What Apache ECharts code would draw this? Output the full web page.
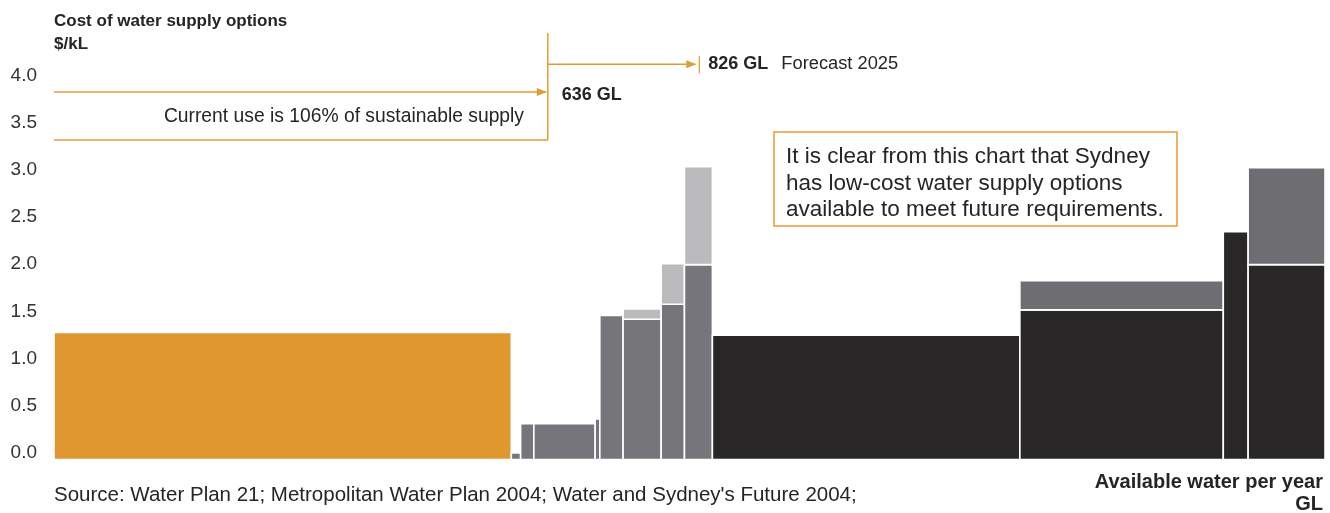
<!DOCTYPE html>
<html>
<head>
<meta charset="utf-8">
<script src="https://cdn.jsdelivr.net/npm/echarts@6/dist/echarts.min.js"></script>
<style>
html,body{margin:0;padding:0;background:#fff;}
#chart{width:1330px;height:513px;}
</style>
</head>
<body>
<div id="chart"></div>
<script>
// Supply options: width in GL of available water per year, cost in $/kL
const widthsGL   = [589, 12, 17, 79, 6, 30, 49, 30, 36, 396, 262, 32, 99];
const baseCost   = [1.35, 0.07, 0.38, 0.38, 0.43, 1.53, 1.49, 1.65, 2.07, 1.32, 1.59, 2.42, 2.07];
const topCost    = [null, null, null, null, null, null, 1.60, 2.08, 3.11, null, 1.90, null, 3.10];
const baseColor  = ['#E0972F','#76767A','#76767A','#76767A','#76767A','#76767A','#76767A','#76767A','#76767A','#292728','#292728','#292728','#292728'];
const topColor   = [null,null,null,null,null,null,'#BBBBBD','#BBBBBD','#BBBBBD',null,'#6E6E72',null,'#6E6E72'];
const yTicks     = [0, 0.5, 1.0, 1.5, 2.0, 2.5, 3.0, 3.5, 4.0];
const currentUseGL = 636;
const forecastGL   = 826;

const ORANGE = '#E39B35';
const TXT = '#262425';
const FONT = '"Liberation Sans", Arial, sans-serif';

// build rectangles from arrays
const rects = [];
const rectColors = [];
let cum = 0;
widthsGL.forEach((w, i) => {
  const x0 = cum, x1 = cum + w;
  rects.push([x0, x1, 0, baseCost[i]]);
  rectColors.push(baseColor[i]);
  if (topCost[i] != null) {
    rects.push([x0, x1, baseCost[i], topCost[i]]);
    rectColors.push(topColor[i]);
  }
  cum = x1;
});
const totalGL = cum;

const chart = echarts.init(document.getElementById('chart'), null, {renderer: 'canvas'});
chart.setOption({
  animation: false,
  grid: {left: 54, right: 5, top: 83, bottom: 53.5},
  xAxis: {type: 'value', min: 0, max: totalGL, show: false},
  yAxis: {
    type: 'value', min: 0, max: 4, interval: 0.5,
    axisLine: {show: false}, axisTick: {show: false}, splitLine: {show: false},
    axisLabel: {
      formatter: v => v.toFixed(1), color: '#333', fontSize: 19, fontFamily: FONT,
      margin: 17, verticalAlign: 'bottom', lineHeight: 14
    }
  },
  series: [{
    type: 'custom',
    data: rects,
    encode: {x: [0, 1], y: [2, 3]},
    renderItem: function (params, api) {
      const a = api.coord([api.value(0), api.value(3)]);
      const b = api.coord([api.value(1), api.value(2)]);
      return {
        type: 'rect',
        shape: {x: a[0], y: a[1], width: b[0] - a[0], height: b[1] - a[1]},
        style: {fill: rectColors[params.dataIndex], stroke: '#fff', lineWidth: 1.6}
      };
    }
  }]
});

function px(x, y) { return chart.convertToPixel({gridIndex: 0}, [x, y]); }
const gl = chart.getModel().getComponent('grid').coordinateSystem.getRect();

const xCur = px(currentUseGL, 0)[0];
const xFor = px(forecastGL, 0)[0];
const yA = px(0, 3.905)[1];   // current-use arrow
const yB = px(0, 3.395)[1];   // bracket bottom
const yTop = px(0, 4.53)[1];  // bracket top
const yC = px(0, 4.20)[1];    // forecast arrow

function arrowHead(tipX, y) {
  return {type: 'polygon', shape: {points: [[tipX, y], [tipX - 10, y - 4], [tipX - 10, y + 4]]}, style: {fill: ORANGE}};
}
const lineStyle = {stroke: ORANGE, lineWidth: 1.5};

chart.setOption({
  graphic: [
    {type: 'line', shape: {x1: gl.x, y1: yA, x2: xCur - 2, y2: yA}, style: lineStyle},
    arrowHead(xCur - 1, yA),
    {type: 'line', shape: {x1: gl.x, y1: yB, x2: xCur, y2: yB}, style: lineStyle},
    {type: 'line', shape: {x1: xCur, y1: yTop, x2: xCur, y2: yB}, style: lineStyle},
    {type: 'line', shape: {x1: xCur, y1: yC, x2: xFor, y2: yC}, style: lineStyle},
    arrowHead(xFor + 1, yC),
    {type: 'line', shape: {x1: xFor + 4, y1: yC - 8, x2: xFor + 4, y2: yC + 9}, style: {stroke: ORANGE, lineWidth: 1.2}},
    {type: 'text', x: 54, y: 21, style: {text: 'Cost of water supply options', font: 'bold 17px ' + FONT, fill: TXT, verticalAlign: 'middle'}},
    {type: 'text', x: 54, y: 44, style: {text: '$/kL', font: 'bold 17px ' + FONT, fill: TXT, verticalAlign: 'middle'}},
    {type: 'text', x: 524, y: 117, style: {text: 'Current use is 106% of sustainable supply', font: '19.3px ' + FONT, fill: TXT, align: 'right', verticalAlign: 'middle'}},
    {type: 'text', x: xCur + 14, y: 95, style: {text: currentUseGL + ' GL', font: 'bold 18px ' + FONT, fill: TXT, verticalAlign: 'middle'}},
    {type: 'text', x: xFor + 13, y: 64, style: {text: forecastGL + ' GL', font: 'bold 18px ' + FONT, fill: TXT, verticalAlign: 'middle'}},
    {type: 'text', x: xFor + 86, y: 64, style: {text: 'Forecast 2025', font: '18.3px ' + FONT, fill: TXT, verticalAlign: 'middle'}},
    {type: 'rect', shape: {x: 774, y: 132, width: 403, height: 94}, style: {fill: '#fff', stroke: ORANGE, lineWidth: 1.5}},
    {type: 'text', x: 786, y: 144, style: {
      text: 'It is clear from this chart that Sydney\nhas low-cost water supply options\navailable to meet future requirements.',
      font: '22.5px ' + FONT, fill: TXT, lineHeight: 26.5, verticalAlign: 'top'}},
    {type: 'text', x: 54, y: 495, style: {text: "Source: Water Plan 21; Metropolitan Water Plan 2004; Water and Sydney's Future 2004;", font: '20.5px ' + FONT, fill: TXT, verticalAlign: 'middle'}},
    {type: 'text', x: 1323, y: 482, style: {text: 'Available water per year', font: 'bold 20px ' + FONT, fill: TXT, align: 'right', verticalAlign: 'middle'}},
    {type: 'text', x: 1323, y: 504, style: {text: 'GL', font: 'bold 20px ' + FONT, fill: TXT, align: 'right', verticalAlign: 'middle'}}
  ]
});
</script>
</body>
</html>
